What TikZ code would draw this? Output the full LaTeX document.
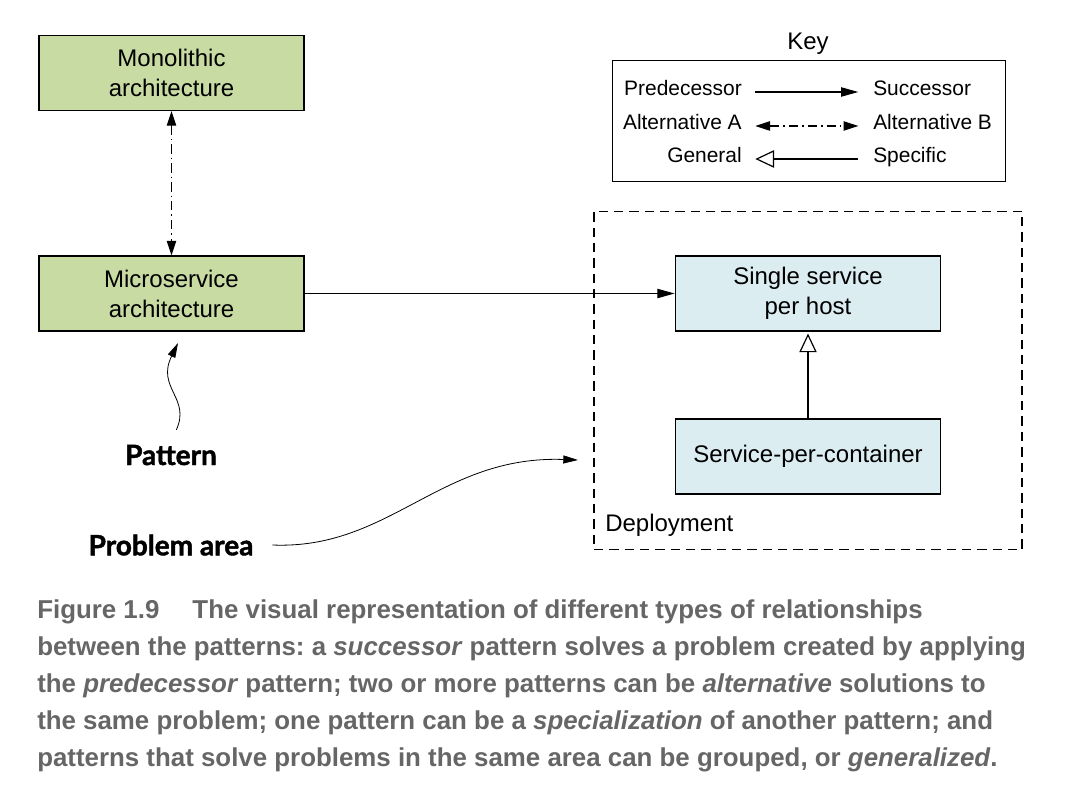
\documentclass[tikz,border=0pt]{standalone}
\usepackage{fontspec}
\setmainfont{Liberation Sans}
\newfontfamily\labelfont{Lato}[BoldFeatures={FakeBold=1.6}]
\usetikzlibrary{arrows.meta,calc}

\definecolor{patgreen}{HTML}{C8DBA3}
\definecolor{patblue}{HTML}{DCEDF2}
\definecolor{capgray}{HTML}{666666}

\begin{document}
\frenchspacing
\begin{tikzpicture}[x=0.75pt,y=-0.75pt,
  patbox/.style={draw=black, line width=1.1pt, minimum width=199pt, minimum height=56pt,
    align=center, inner sep=0pt, font=\fontsize{18}{22.5}\selectfont},
  greenbox/.style={patbox, fill=patgreen},
  bluebox/.style={patbox, fill=patblue},
  keytext/.style={inner sep=0pt, font=\fontsize{15.7}{19}\selectfont},
  plaintext/.style={inner sep=0pt, font=\fontsize{18}{22}\selectfont},
  bigtag/.style={inner sep=0pt, font=\labelfont\bfseries\fontsize{21}{25}\selectfont},
  conn/.style={line width=0.9pt},
  filltip/.style={-{Triangle[length=13pt,width=7pt]}},
  succarrow/.style={conn, filltip},
  altarrow/.style={conn, {Triangle[length=11pt,width=7pt]}-{Triangle[length=11pt,width=7pt]},
    dash pattern=on 7pt off 3pt on 1.2pt off 3pt},
  specarrow/.style={conn, -{Triangle[open,length=14pt,width=13pt,line width=0.9pt]}},
  tagarrow/.style={line width=0.6pt, -{Triangle[length=11pt,width=6pt]}}
]
\useasboundingbox (0,0) rectangle (1085,791);

% pattern boxes
\node[greenbox] (mono) at (171.5,73) {Monolithic\\architecture};
\node[greenbox] (micro) at (171.5,293.5) {Microservice\\architecture};

% deployment problem area
\node[draw=black, line width=0.9pt, dash pattern=on 7pt off 4.5pt,
      minimum width=321pt, minimum height=254pt, inner sep=0pt] (deploy) at (808,380.5) {};
\node[plaintext, anchor=west] (deplabel) at (605,525) {Deployment};
\node[bluebox] (single) at (808,293.5) {Single service\\per host};
\node[bluebox] (container) at (808,456.5) {Service-per-container};

% relationships
\draw[altarrow] (mono.south) -- (micro.north);
\draw[succarrow] (micro.east) -- (single.west);
\draw[specarrow, shorten >=1.5pt] (container.north) -- (single.south);

% key
\node[plaintext] (keytitle) at (808,44) {Key};
\node[draw=black, line width=1.1pt, minimum width=295pt, minimum height=91pt, inner sep=0pt] (keybox) at (809,121) {};
\node[keytext, anchor=mid east] (kpred) at (742,92) {Predecessor};
\node[keytext, anchor=mid west] (ksucc) at (873,92) {Successor};
\node[keytext, anchor=mid east] (kalta) at (742,126) {Alternative A};
\node[keytext, anchor=mid west] (kaltb) at (873,126) {Alternative B};
\node[keytext, anchor=mid east] (kgen) at (742,159) {General};
\node[keytext, anchor=mid west] (kspec) at (873,159) {Specific};
\draw[succarrow, shorten <=10pt, shorten >=11pt] (kpred.mid east) -- (ksucc.mid west);
\draw[altarrow, shorten <=10pt, shorten >=11pt] (kalta.mid east) -- (kaltb.mid west);
\draw[specarrow, shorten <=11pt, shorten >=10pt] (kspec.mid west) -- (kgen.mid east);

% annotation tags
\node[bigtag] (pattag) at (171,455) {Pattern};
\node[bigtag] (probtag) at (171,545) {Problem area};
\coordinate (pattip) at (178,343);
\coordinate (probtip) at (578,460);
\draw[tagarrow] ([xshift=4pt,yshift=11pt]pattag.north) .. controls (191,398) and (156,388) .. (pattip);
\draw[tagarrow] ([xshift=14pt]probtag.east) .. controls (390,550) and (440,455) .. (probtip);

% caption
\node[anchor=north west, align=left, inner sep=0pt, text=capgray,
      font=\bfseries\fontsize{19.4}{27.9}\selectfont] (caption) at (37,599) {%
Figure 1.9\quad\ The visual representation of different types of relationships\\
between the patterns: a \textit{successor} pattern solves a problem created by applying\\
the \textit{predecessor} pattern; two or more patterns can be \textit{alternative} solutions to\\
the same problem; one pattern can be a \textit{specialization} of another pattern; and\\
patterns that solve problems in the same area can be grouped, or \textit{generalized}.};
\end{tikzpicture}
\end{document}
